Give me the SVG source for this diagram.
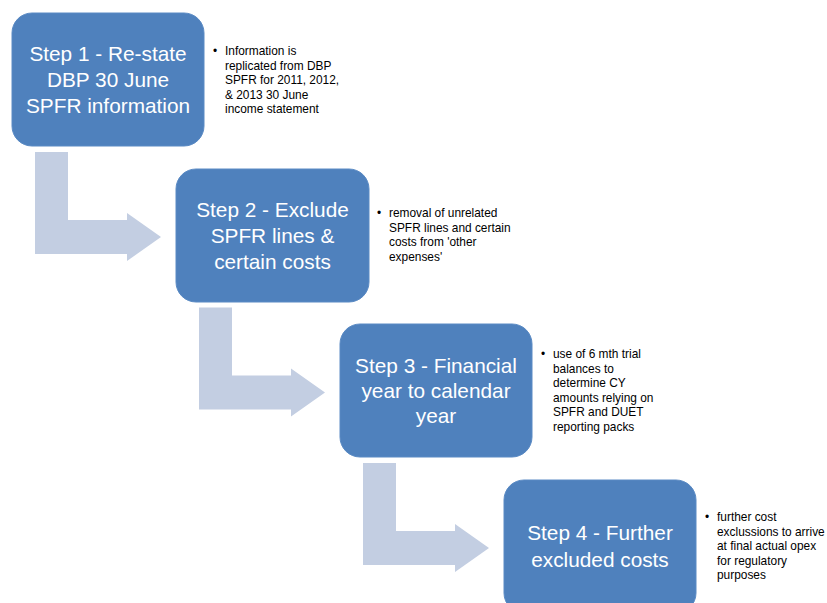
<svg xmlns="http://www.w3.org/2000/svg" width="827" height="603" viewBox="0 0 827 603">
<style>
.box{fill:#4F81BD;stroke:#5A8AC4;stroke-width:1}
.arrow{fill:#C3CEE2}
.bt{font-family:"Liberation Sans",Arial,sans-serif;font-size:20.8px;fill:#FFFFFF;text-anchor:middle}
.nt{font-family:"Liberation Sans",Arial,sans-serif;font-size:11.9px;fill:#000000}
</style>
<rect width="827" height="603" fill="#FFFFFF"/>
<g id="connectors">
<path class="arrow" d="M35,152 H68 V220 H127 V213 L161,237 L127,261 V254 H35 Z"/>
<path class="arrow" d="M199,307.5 H232 V375.5 H291 V368.5 L325,392.5 L291,416.5 V409.5 H199 Z"/>
<path class="arrow" d="M363,463 H396 V531 H455 V524 L489,548 L455,572 V565 H363 Z"/>
</g>
<g id="step1">
<rect class="box" x="12" y="13" width="192" height="133" rx="20" ry="20"/>
<text class="bt" x="108" y="61">Step 1 - Re-state</text>
<text class="bt" x="108" y="87">DBP 30 June</text>
<text class="bt" x="108" y="113">SPFR information</text>
</g>
<g id="note1" class="nt">
<text x="213" y="54.5">•</text>
<text x="225" y="55">Information is</text>
<text x="225" y="69.5">replicated from DBP</text>
<text x="225" y="84">SPFR for 2011, 2012,</text>
<text x="225" y="98.5">&amp; 2013 30 June</text>
<text x="225" y="113">income statement</text>
</g>
<g id="step2">
<rect class="box" x="176" y="169" width="193" height="133" rx="20" ry="20"/>
<text class="bt" x="272.5" y="217">Step 2 - Exclude</text>
<text class="bt" x="272.5" y="243">SPFR lines &amp;</text>
<text class="bt" x="272.5" y="269">certain costs</text>
</g>
<g id="note2" class="nt">
<text x="377" y="216.5">•</text>
<text x="389" y="217">removal of unrelated</text>
<text x="389" y="231.5">SPFR lines and certain</text>
<text x="389" y="246">costs from 'other</text>
<text x="389" y="260.5">expenses'</text>
</g>
<g id="step3">
<rect class="box" x="340" y="324" width="192" height="133" rx="20" ry="20"/>
<text class="bt" x="436" y="373">Step 3 - Financial</text>
<text class="bt" x="436" y="398">year to calendar</text>
<text class="bt" x="436" y="423">year</text>
</g>
<g id="note3" class="nt">
<text x="541" y="357.5">•</text>
<text x="553" y="358">use of 6 mth trial</text>
<text x="553" y="372.5">balances to</text>
<text x="553" y="387">determine CY</text>
<text x="553" y="401.5">amounts relying on</text>
<text x="553" y="416">SPFR and DUET</text>
<text x="553" y="430.5">reporting packs</text>
</g>
<g id="step4">
<rect class="box" x="504" y="480" width="192" height="133" rx="20" ry="20"/>
<text class="bt" x="600" y="540">Step 4 - Further</text>
<text class="bt" x="600" y="567">excluded costs</text>
</g>
<g id="note4" class="nt">
<text x="705" y="520.5">•</text>
<text x="717" y="521">further cost</text>
<text x="717" y="535.5">exclussions to arrive</text>
<text x="717" y="550">at final actual opex</text>
<text x="717" y="564.5">for regulatory</text>
<text x="717" y="579">purposes</text>
</g>
</svg>
